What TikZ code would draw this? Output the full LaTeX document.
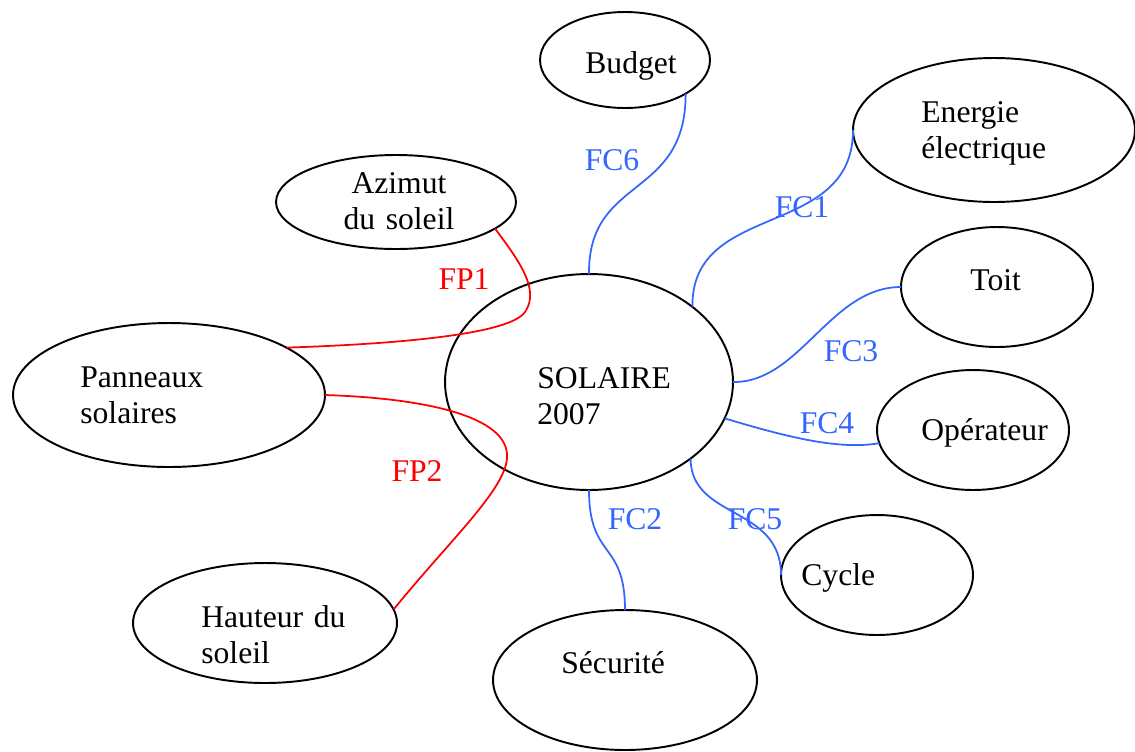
\documentclass[tikz,border=0pt]{standalone}
\usepackage{fontspec}
\setmainfont{Liberation Serif}
\usepackage{tikz}
\usetikzlibrary{shapes.geometric}
\definecolor{fcblue}{RGB}{51,102,255}

\begin{document}
\begin{tikzpicture}[x=0.02cm, y=-0.02cm,
    bulle/.style={draw, ellipse, line width=1.1pt, inner sep=0pt, outer sep=0pt},
    txt/.style={inner sep=0pt, text width=5cm, align=left, anchor=base west, font=\fontsize{18}{20.8}\selectfont},
    lab/.style={inner sep=0pt, font=\fontsize{18}{20.8}\selectfont},
    fc/.style={fcblue, line width=1pt},
    fp/.style={red, line width=1pt}]
    \useasboundingbox (0,0) rectangle (1135,751);

    \node[bulle, minimum width=5.76cm, minimum height=4.32cm] (sol) at (589,382) {};
    \node[bulle, minimum width=3.4cm, minimum height=1.92cm] (bud) at (625,60) {};
    \node[bulle, minimum width=5.64cm, minimum height=2.88cm] (ene) at (994,130) {};
    \node[bulle, minimum width=4.8cm, minimum height=1.88cm] (azi) at (396,202) {};
    \node[bulle, minimum width=3.84cm, minimum height=2.4cm] (toit) at (997,287) {};
    \node[bulle, minimum width=6.24cm, minimum height=2.88cm] (pan) at (169,395) {};
    \node[bulle, minimum width=3.84cm, minimum height=2.4cm] (ope) at (973,430) {};
    \node[bulle, minimum width=3.84cm, minimum height=2.4cm] (cyc) at (877,575) {};
    \node[bulle, minimum width=5.28cm, minimum height=2.4cm] (hau) at (265,623) {};
    \node[bulle, minimum width=5.28cm, minimum height=2.8cm] (sec) at (625,680) {};

    \node[txt] (tsol) at (537,388) {SOLAIRE\\2007};
    \node[txt] (tbud) at (585,73) {Budget};
    \node[txt] (tene) at (921,122) {Energie\\électrique};
    \node[txt, align=center, anchor=base] (tazi) at (399,193) {Azimut\\du soleil};
    \node[txt] (ttoit) at (970,290) {Toit};
    \node[txt] (tpan) at (80,387) {Panneaux\\solaires};
    \node[txt] (tope) at (921,440) {Opérateur};
    \node[txt] (tcyc) at (801,585) {Cycle};
    \node[txt] (thau) at (201,627) {Hauteur du\\soleil};
    \node[txt] (tsec) at (561,673) {Sécurité};

    \node[lab, text=fcblue] (fc6) at (612,160) {FC6};
    \node[lab, text=fcblue] (fc1) at (802,207) {FC1};
    \node[lab, text=fcblue] (fc3) at (851,351) {FC3};
    \node[lab, text=fcblue] (fc4) at (827,423) {FC4};
    \node[lab, text=fcblue] (fc5) at (755,519) {FC5};
    \node[lab, text=fcblue] (fc2) at (635,519) {FC2};
    \node[lab, text=red] (fp1) at (464,279) {FP1};
    \node[lab, text=red] (fp2) at (417,471) {FP2};

    \draw[fc] (sol.90) .. controls (588,175) and (686,200) .. (bud.-29);
    \draw[fc] (sol.36) .. controls (691,200) and (853,240) .. (ene.180);
    \draw[fc] (sol.0) .. controls (800,383) and (830,287) .. (toit.180);
    \draw[fc] (sol.-15) .. controls (790,438) and (840,450) .. (ope.-172);
    \draw[fc] (sol.-37) .. controls (691,520) and (781,505) .. (cyc.180);
    \draw[fc] (sol.-90) .. controls (589,560) and (625,540) .. (sec.90);
    \draw[fp] (azi.-15) .. controls (520,262) and (540,290) .. (525,312)
        .. controls (510,334) and (400,344) .. (pan.22);
    \draw[fp] (pan.0) .. controls (420,398) and (510,415) .. (507,458)
        .. controls (505,490) and (450,540) .. (hau.6);
\end{tikzpicture}
\end{document}
